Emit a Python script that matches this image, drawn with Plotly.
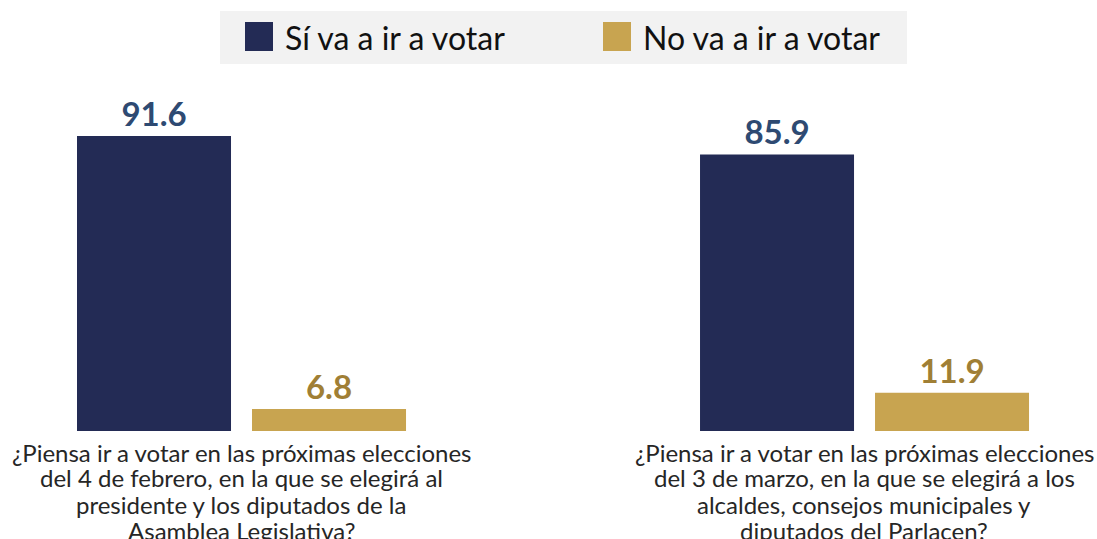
import plotly.graph_objects as go

categories = [
    "¿Piensa ir a votar en las próximas elecciones<br>del 4 de febrero, en la que se elegirá al<br>presidente y los diputados de la<br>Asamblea Legislativa?",
    "¿Piensa ir a votar en las próximas elecciones<br>del 3 de marzo, en la que se elegirá a los<br>alcaldes, consejos municipales y<br>diputados del Parlacen?",
]
series_names = ["Sí va a ir a votar", "No va a ir a votar"]
si_values = [91.6, 85.9]
no_values = [6.8, 11.9]

bar_colors = ["#232b55", "#c8a450"]
label_colors = ["#2e4a72", "#a07f35"]

W, H = 1097, 539
plot_top, plot_bottom = 109, 431
ph = plot_bottom - plot_top

fig = go.Figure()
for name, vals, bc, lc, off in [
    (series_names[0], si_values, bar_colors[0], label_colors[0], -0.264),
    (series_names[1], no_values, bar_colors[1], label_colors[1], 0.0169),
]:
    fig.add_trace(go.Bar(
        x=categories, y=vals, name=name,
        marker=dict(color=bc, line=dict(width=0)),
        width=0.2472, offset=off,
        texttemplate="%{y:.1f}", textposition="outside",
        textfont=dict(family="Lato", size=33, color=lc, weight="bold"),
        cliponaxis=False, showlegend=False, hoverinfo="skip",
    ))


def px(x):
    return x / W


def py(y):
    return (plot_bottom - y) / ph


shapes = [dict(type="rect", xref="paper", yref="paper",
               x0=px(220), x1=px(907), y0=py(64), y1=py(11),
               fillcolor="#f2f2f2", line=dict(width=0), layer="below")]
annotations = []
legend_items = [(245, 283), (603, 641)]
for (sx, tx), name, col in zip(legend_items, series_names, bar_colors):
    shapes.append(dict(type="rect", xref="paper", yref="paper",
                       x0=px(sx), x1=px(sx + 28), y0=py(51), y1=py(22),
                       fillcolor=col, line=dict(width=0)))
    annotations.append(dict(xref="paper", yref="paper", x=px(tx), y=py(37),
                            text=name, showarrow=False, xanchor="left", yanchor="middle",
                            font=dict(family="Lato", size=32, color="#111111")))

# category labels, one annotation per line for tighter line spacing
line_y = [452, 478, 504, 530]
for cat in categories:
    for i, line in enumerate(cat.split("<br>")):
        annotations.append(dict(xref="x", yref="paper", x=cat, y=py(line_y[i]),
                                text=line, showarrow=False, xanchor="center", yanchor="middle",
                                font=dict(family="Lato", size=24, color="#262626")))

fig.update_layout(
    width=W, height=H,
    margin=dict(l=0, r=0, t=plot_top, b=H - plot_bottom),
    paper_bgcolor="white", plot_bgcolor="white",
    barmode="group",
    shapes=shapes, annotations=annotations,
    xaxis=dict(range=[-0.3876, 1.3732], showgrid=False, zeroline=False, showline=False,
               ticks="", showticklabels=False),
    yaxis=dict(range=[0, 100], visible=False),
    font=dict(family="Lato"),
)

fig.write_html("out.html", config={"displayModeBar": False},
               post_script="document.body.style.margin='0px';")
